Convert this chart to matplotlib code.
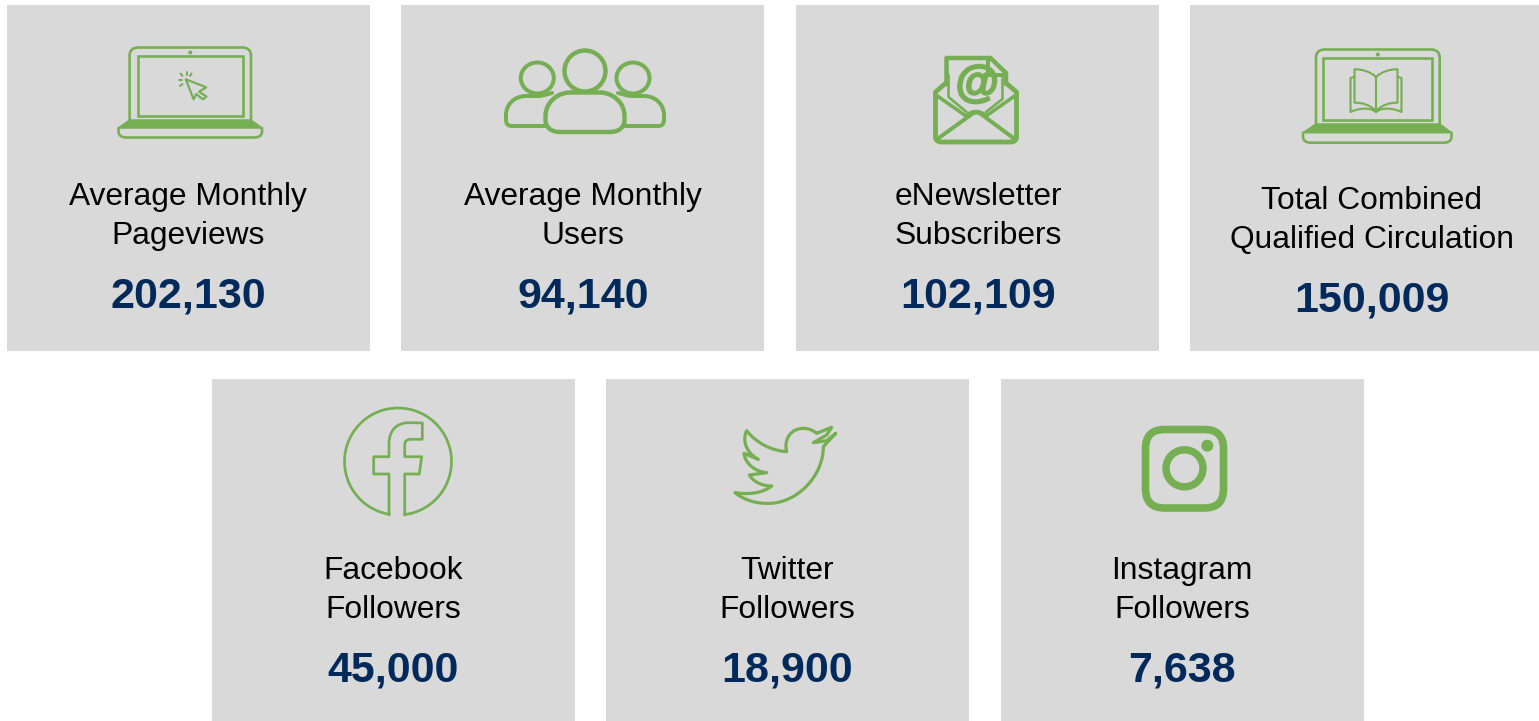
import numpy as np
import matplotlib
matplotlib.use("Agg")
import matplotlib.pyplot as plt
import matplotlib.patheffects as pe
from matplotlib.patches import Circle, Ellipse, FancyBboxPatch, PathPatch, Rectangle
from matplotlib.path import Path

top_labels = [
    "Average Monthly\nPageviews",
    "Average Monthly\nUsers",
    "eNewsletter\nSubscribers",
    "Total Combined\nQualified Circulation",
]
top_values = ["202,130", "94,140", "102,109", "150,009"]
bottom_labels = ["Facebook\nFollowers", "Twitter\nFollowers", "Instagram\nFollowers"]
bottom_values = ["45,000", "18,900", "7,638"]

GREEN = "#76AE53"
CARD = "#D9D9D9"
NAVY = "#002A5C"
FONT = "Liberation Sans"

plt.rcParams["font.family"] = FONT

fig = plt.figure(figsize=(15.39, 7.21), dpi=100)
ax = fig.add_axes([0, 0, 1, 1])
ax.set_xlim(0, 1539)
ax.set_ylim(721, 0)
ax.axis("off")


def px(width):
    return width * 0.72


def shape(ops, close=False, lw=2.0, fill="none"):
    # ops: (x, y) is a line, (x1, y1, x2, y2, x, y) a cubic curve
    verts, codes = [ops[0]], [Path.MOVETO]
    for op in ops[1:]:
        if len(op) == 2:
            verts.append(op)
            codes.append(Path.LINETO)
        else:
            verts += [op[:2], op[2:4], op[4:]]
            codes += [Path.CURVE4] * 3
    if close:
        verts.append(ops[0])
        codes.append(Path.CLOSEPOLY)
    ax.add_patch(PathPatch(Path(verts, codes), facecolor=fill, edgecolor=GREEN,
                           linewidth=px(lw), joinstyle="round", capstyle="round"))


def round_box(x0, y0, x1, y1, r, lw):
    ax.add_patch(FancyBboxPatch((x0 + r, y0 + r), x1 - x0 - 2 * r, y1 - y0 - 2 * r,
                                boxstyle=f"round,pad={r},rounding_size={r}",
                                facecolor="none", edgecolor=GREEN, linewidth=px(lw)))


def laptop(x0, x1, top, band, tray, bottom, bx0, bx1, ix0, ix1, iy0, iy1):
    cx = (x0 + x1) / 2
    shape([(x0, band), (x0, top + 8), (x0, top + 3, x0 + 3, top, x0 + 9, top),
           (x1 - 9, top), (x1 - 3, top, x1, top + 3, x1, top + 8), (x1, band)], lw=2.6)
    ax.add_patch(Rectangle((ix0, iy0), ix1 - ix0, iy1 - iy0, facecolor="none",
                           edgecolor=GREEN, linewidth=px(2.6)))
    ax.add_patch(Circle((cx, top + 5), 2, color=GREEN, linewidth=0))
    shape([(x0, band), (x1, band), (bx1, tray), (bx0, tray)], close=True, lw=1.5, fill=GREEN)
    shape([(bx0, tray), (bx0, bottom - 6), (bx0, bottom - 2, bx0 + 3, bottom, bx0 + 8, bottom),
           (bx1 - 8, bottom), (bx1 - 3, bottom, bx1, bottom - 2, bx1, bottom - 6), (bx1, tray)], lw=2.6)


def draw_cursor_icon():
    laptop(129.6, 251, 47.5, 120, 128, 137.5, 118.5, 262, 137.8, 243, 55.5, 116)
    shape([(185.8, 79.3), (206.2, 87.3), (199.1, 91.7), (206.5, 96.7), (202.9, 99.3),
           (196.2, 94), (193.6, 99.3)], close=True, lw=2.2)
    for seg in [((186.5, 71.5), (186.5, 75)), ((191.5, 73.5), (190, 76)),
                ((180.5, 73.5), (182.5, 76)), ((178.5, 80), (181.5, 80)), ((180, 86), (182.5, 84))]:
        shape(list(seg), lw=2)


def draw_book_icon():
    laptop(1316, 1439.7, 49.5, 124, 132.7, 142.7, 1303, 1451.5, 1322.8, 1432, 58, 120)
    for side in (-1, 1):
        m = lambda d: 1376 + side * d
        shape([(m(0), 77), (m(5), 72, m(14), 69, m(21.5), 69.3), (m(21.5), 102.7),
               (m(14), 102.5, m(5), 105, m(0), 111.5)], lw=2.1)
        shape([(m(21.5), 76.7), (m(25.5), 78), (m(25.5), 112),
               (m(17), 108, m(6), 107, m(0), 112)], lw=2.1)
    shape([(1376, 77), (1376, 112)], lw=2.1)


def draw_people_icon():
    ax.add_patch(Ellipse((585, 71), 41, 41, facecolor="none", edgecolor=GREEN, linewidth=px(4.4)))
    for x in (537.3, 633):
        ax.add_patch(Ellipse((x, 78), 33, 31, facecolor="none", edgecolor=GREEN, linewidth=px(4)))
    for side in (-1, 1):
        m = lambda d: 585 + side * d
        shape([(m(40), 126), (m(73), 126), (m(78), 126, m(79), 123, m(79), 119),
               (m(79), 115), (m(79), 104, m(70), 96, m(59), 96), (m(47), 96), (m(42), 96, m(38), 94, m(33), 93)],
              lw=4)
    shape([(560, 132), (610, 132), (619, 132, 624.5, 127, 624.5, 120), (624.5, 116),
           (624.5, 102, 612, 92.5, 600, 92.5), (570, 92.5), (558, 92.5, 545.5, 102, 545.5, 116),
           (545.5, 120), (545.5, 127, 551, 132, 560, 132)], close=True, lw=4.4)


def draw_mail_icon():
    shape([(946.5, 84), (946.5, 58), (990.5, 58), (1006, 73), (1006, 84)], lw=4.5)
    shape([(988, 59), (988, 75), (1005, 75)], lw=4)
    shape([(948.5, 75), (948.5, 97), (966.5, 112)], lw=2.6)
    shape([(1002.5, 77), (1002.5, 99), (986, 112)], lw=2.6)
    shape([(946, 83), (935.5, 92), (935.5, 137), (935.5, 140, 938, 142, 941, 142),
           (1011, 142), (1014, 142, 1016.5, 140, 1016.5, 137), (1016.5, 92), (1006, 83)], lw=4.8)
    shape([(936, 95), (966, 116), (972, 110, 980, 110, 986, 116), (1016, 95)], lw=3.6)
    shape([(936, 140), (972, 114), (975, 112, 978, 112, 981, 114), (1016, 140)], lw=4)
    ax.text(976.5, 85.5, "@", fontsize=32, fontweight="bold", fontstyle="italic",
            color=GREEN, ha="center", va="center",
            path_effects=[pe.withStroke(linewidth=px(2), foreground=GREEN)])


def draw_facebook_icon():
    cx, cy, r = 398, 461.5, 53.5
    a0 = np.arcsin((404.7 - cx) / r)
    a1 = np.arcsin((389 - cx) / r) + 2 * np.pi
    angles = np.linspace(a0, a1, 120)
    ax.plot(cx + r * np.sin(angles), cy + r * np.cos(angles), color=GREEN, lw=px(2.7))
    shape([(389, 515), (389, 474), (373.7, 474), (373.7, 456.7), (389, 456.7), (389, 444),
           (389, 430, 397, 422.7, 409, 422.7), (422.3, 423), (422.3, 439.3), (411, 439.3),
           (407, 439.3, 404.7, 441, 404.7, 445), (404.7, 456.7), (421.7, 456.7),
           (419.3, 474), (404.7, 474), (404.7, 515)], lw=2.7)


def draw_twitter_icon():
    pts = [(1250, 92), (1280, 130, 1325, 152, 1370, 155), (1360, 115, 1385, 85, 1420, 85),
           (1438, 85, 1450, 92, 1460, 100), (1505, 82), (1490, 105), (1450, 128), (1490, 122),
           (1517, 100), (1480, 140), (1480, 230, 1400, 308, 1320, 310), (1275, 312, 1240, 298, 1215, 278),
           (1260, 285, 1300, 278, 1325, 258), (1295, 258, 1270, 245, 1258, 225), (1310, 218),
           (1275, 215, 1245, 190, 1242, 160), (1285, 178), (1250, 160, 1235, 122, 1250, 92)]
    conv = [tuple(v / 3 + (330 if i % 2 == 0 else 400) for i, v in enumerate(p)) for p in pts]
    shape(conv, close=True, lw=3.2)


def draw_instagram_icon():
    round_box(1145.5, 429.5, 1223.5, 508, 19, 7.6)
    ax.add_patch(Circle((1184.5, 468.3), 18.5, facecolor="none", edgecolor=GREEN, linewidth=px(7.4)))
    ax.add_patch(Circle((1207.3, 445.7), 6, color=GREEN, linewidth=0))


def draw_card(x0, x1, y0, y1, label, value, cx, label_y, value_y):
    ax.add_patch(Rectangle((x0, y0), x1 - x0, y1 - y0, facecolor=CARD, edgecolor="none"))
    for line, y in zip(label.split("\n"), label_y):
        ax.text(cx, y, line, fontsize=22.9, color="black", ha="center", va="center")
    ax.text(cx, value_y, value, fontsize=31, fontweight="bold", color=NAVY, ha="center", va="center")


top_left = [7, 401, 796, 1190]
top_right = [370, 764, 1159, 1539]
top_cx = [188, 583, 978, 1371.5]
top_dy = [0, 0, 0, 4]
for i in range(4):
    dy = top_dy[i]
    draw_card(top_left[i], top_right[i], 5, 351, top_labels[i], top_values[i], top_cx[i],
              (197 + dy, 236 + dy), 297 + dy)

bottom_left = [212, 606, 1001]
bottom_cx = [393, 787, 1182]
for i in range(3):
    draw_card(bottom_left[i], bottom_left[i] + 363, 379, 721, bottom_labels[i], bottom_values[i],
              bottom_cx[i], (571, 610), 671)

draw_cursor_icon()
draw_people_icon()
draw_mail_icon()
draw_book_icon()
draw_facebook_icon()
draw_twitter_icon()
draw_instagram_icon()

fig.savefig("out.png", dpi=100, facecolor="white")
